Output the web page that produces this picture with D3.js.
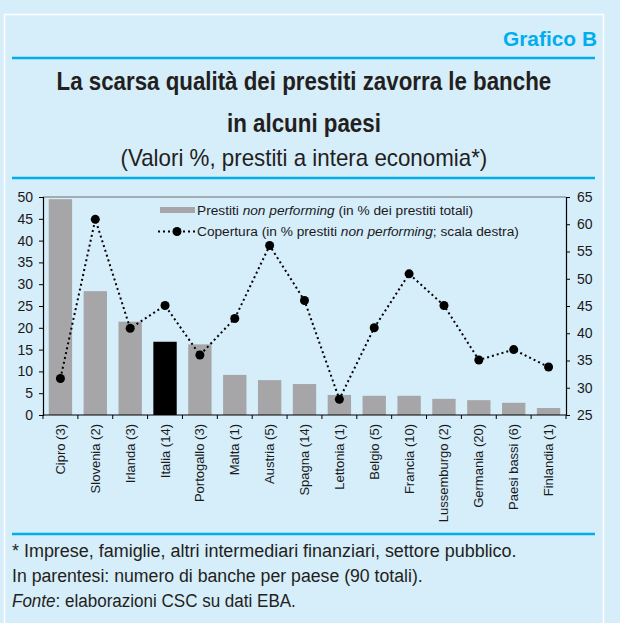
<html lang="it">
<head>
    <meta charset="utf-8">
    <title>Grafico B</title>
    <style>
        body { margin: 0; background: #d6edfa; }
        svg { display: block; }
        .narrow { font-family: "Liberation Sans", Arial, sans-serif; }
        .xlab { font-family: "Liberation Sans", Arial, sans-serif; font-size: 13px; fill: #1a1a1a; }
        .axis text { font-family: "Liberation Sans", Arial, sans-serif; font-size: 14px; fill: #1a1a1a; }
        .legend text { font-family: "Liberation Sans", Arial, sans-serif; font-size: 13.7px; fill: #1a1a1a; }
    </style>
</head>
<body>
<svg id="chart" width="620" height="623"></svg>
<script src="https://d3js.org/d3.v7.min.js"></script>
<script>
    // dati
    const paesi = ["Cipro (3)", "Slovenia (2)", "Irlanda (3)", "Italia (14)", "Portogallo (3)", "Malta (1)",
        "Austria (5)", "Spagna (14)", "Lettonia (1)", "Belgio (5)", "Francia (10)", "Lussemburgo (2)",
        "Germania (20)", "Paesi bassi (6)", "Finlandia (1)"];
    const npl = [49.5, 28.4, 21.4, 16.8, 16.2, 9.2, 8.0, 7.1, 4.6, 4.4, 4.4, 3.7, 3.4, 2.8, 1.6];
    const copertura = [31.7, 60.9, 40.9, 45.1, 36.0, 42.7, 56.1, 46.0, 27.9, 41.0, 50.9, 45.1, 35.1, 37.0, 33.8];
    const leftTicks = [0, 5, 10, 15, 20, 25, 30, 35, 40, 45, 50];
    const rightTicks = [25, 30, 35, 40, 45, 50, 55, 60, 65];
    const note = [
        "* Imprese, famiglie, altri intermediari finanziari, settore pubblico.",
        "In parentesi: numero di banche per paese (90 totali)."
    ];

    const blue = "#00aeef";
    const svg = d3.select("#chart");

    // testo "stretto": Arial schiacciata in orizzontale fino alla larghezza voluta
    function narrowText(xPos, yPos, anchor, width, size)
    {
        const g = svg.append("g");
        const t = g.append("text").attr("class", "narrow").attr("font-size", size).attr("fill", "#231f20");
        g.fit = () =>
        {
            const w = t.node().getComputedTextLength();
            const k = width / w;
            const x0 = anchor === "middle" ? xPos - width / 2 : anchor === "end" ? xPos - width : xPos;
            g.attr("transform", `translate(${x0},${yPos}) scale(${k},1)`);
            return g;
        };
        g.t = t;
        return g;
    }

    // cornice
    svg.append("rect").attr("x", 4.5).attr("y", 14.5).attr("width", 599).attr("height", 620)
        .attr("fill", "none").attr("stroke", "#ffffff").attr("stroke-width", 1.5);
    [58, 178, 534].forEach(y =>
    {
        svg.append("line").attr("x1", 12).attr("x2", 595).attr("y1", y).attr("y2", y)
            .attr("stroke", blue).attr("stroke-width", 2.5);
    });

    const gb = narrowText(597, 46, "end", 94, 21);
    gb.t.attr("font-weight", "bold").attr("fill", blue).text("Grafico B");
    gb.fit();

    const titles = [
        {t: "La scarsa qualità dei prestiti zavorra le banche", y: 90, w: "bold", s: 26.5, len: 495},
        {t: "in alcuni paesi", y: 132, w: "bold", s: 26.5, len: 154},
        {t: "(Valori %, prestiti a intera economia*)", y: 166, w: "normal", s: 23, len: 367}
    ];
    titles.forEach(d =>
    {
        const g = narrowText(304, d.y, "middle", d.len, d.s);
        g.t.attr("font-weight", d.w).text(d.t);
        g.fit();
    });

    // area del grafico
    const pL = 43, pR = 566, pT = 197, pB = 415;
    const x = d3.scaleBand().domain(paesi).range([pL, pR]).paddingInner(0.33).paddingOuter(0.165);
    const yL = d3.scaleLinear().domain([0, 50]).range([pB, pT]);
    const yR = d3.scaleLinear().domain([25, 65]).range([pB, pT]);

    svg.append("line").attr("x1", pL).attr("x2", pR).attr("y1", pT).attr("y2", pT)
        .attr("stroke", "#6d6e71").attr("stroke-width", 1.2);

    svg.append("g").selectAll("rect").data(paesi).join("rect")
        .attr("x", d => x(d)).attr("width", x.bandwidth())
        .attr("y", (d, i) => yL(npl[i])).attr("height", (d, i) => pB - yL(npl[i]))
        .attr("fill", d => d.startsWith("Italia") ? "#000000" : "#a6a6a9");

    const line = d3.line().x(d => x(d.p) + x.bandwidth() / 2).y(d => yR(d.v));
    const pts = paesi.map((p, i) => ({p: p, v: copertura[i]}));
    svg.append("path").datum(pts).attr("d", line).attr("fill", "none")
        .attr("stroke", "#000").attr("stroke-width", 2).attr("stroke-dasharray", "2,3");
    svg.append("g").selectAll("circle").data(pts).join("circle")
        .attr("cx", d => x(d.p) + x.bandwidth() / 2).attr("cy", d => yR(d.v))
        .attr("r", 4.5).attr("fill", "#000");

    // assi
    const gl = svg.append("g").attr("class", "axis").attr("transform", `translate(${pL},0)`)
        .call(d3.axisLeft(yL).tickValues(leftTicks).tickSize(4).tickPadding(6));
    const gr = svg.append("g").attr("class", "axis").attr("transform", `translate(${pR},0)`)
        .call(d3.axisRight(yR).tickValues(rightTicks).tickSize(4).tickPadding(7));
    [gl, gr].forEach(g =>
    {
        g.attr("font-family", null).attr("font-size", null);
        g.select(".domain").attr("stroke", "#000").attr("stroke-width", 1.2);
        g.selectAll(".tick line").attr("stroke", "#000");
    });

    const step = x.step();
    const bounds = d3.range(paesi.length + 1).map(i => pL + i * step);
    svg.append("line").attr("x1", pL).attr("x2", pR).attr("y1", pB).attr("y2", pB)
        .attr("stroke", "#000").attr("stroke-width", 1.2);
    svg.append("g").selectAll("line").data(bounds).join("line")
        .attr("x1", d => d).attr("x2", d => d).attr("y1", pB).attr("y2", pB + 4)
        .attr("stroke", "#000");

    svg.append("g").selectAll("text").data(paesi).join("text")
        .attr("class", "xlab")
        .attr("transform", d => `translate(${x(d) + x.bandwidth() / 2 + 4.5},${pB + 9}) rotate(-90)`)
        .attr("text-anchor", "end").text(d => d);

    // legenda
    const lg = svg.append("g").attr("class", "legend");
    lg.append("rect").attr("x", 160).attr("y", 207).attr("width", 35).attr("height", 6).attr("fill", "#a6a6a9");
    const t1 = lg.append("text").attr("x", 197).attr("y", 215);
    t1.append("tspan").text("Prestiti ");
    t1.append("tspan").attr("font-style", "italic").text("non performing");
    t1.append("tspan").text(" (in % dei prestiti totali)");
    lg.append("line").attr("x1", 158).attr("x2", 196).attr("y1", 231.5).attr("y2", 231.5)
        .attr("stroke", "#000").attr("stroke-width", 2).attr("stroke-dasharray", "2,3");
    lg.append("circle").attr("cx", 177).attr("cy", 231.5).attr("r", 4.5).attr("fill", "#000");
    const t2 = lg.append("text").attr("x", 197).attr("y", 236);
    t2.append("tspan").text("Copertura (in % prestiti ");
    t2.append("tspan").attr("font-style", "italic").text("non performing");
    t2.append("tspan").text("; scala destra)");

    // note
    const noteLen = [505, 411];
    note.forEach((n, i) =>
    {
        const g = narrowText(12, 557 + i * 25, "start", noteLen[i], 19);
        g.t.text(n);
        g.fit();
    });
    const f = narrowText(12, 607, "start", 284, 19);
    f.t.append("tspan").attr("font-style", "italic").text("Fonte");
    f.t.append("tspan").text(": elaborazioni CSC su dati EBA.");
    f.fit();
</script>
</body>
</html>
